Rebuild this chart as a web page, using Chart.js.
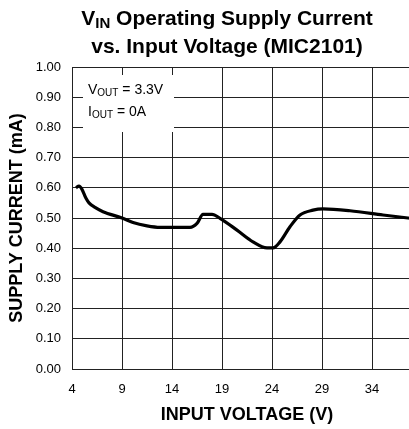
<!DOCTYPE html>
<html>
<head>
<meta charset="utf-8">
<script src="https://cdn.jsdelivr.net/npm/chart.js@4.4.0/dist/chart.umd.min.js"></script>
<style>
  html, body { margin: 0; padding: 0; background: #fff; overflow: hidden; }
  #wrap { width: 422px; height: 429px; }
</style>
</head>
<body>
<div id="wrap"><canvas id="chart" width="422" height="429"></canvas></div>
<script>
'use strict';

// ===== DATA =====
const inputVoltage = [4.4, 4.7, 5.0, 5.4, 5.7, 6.3, 7.1, 9.0, 10.1, 11.5, 12.8, 15.8, 16.5, 17.1, 18.0, 18.8, 20.5, 22.1, 23.5, 24.1, 24.8, 25.8, 26.8, 28.1, 29.1, 31.8, 35.1, 37.6, 39.0];
const supplyCurrent = [0.600, 0.606, 0.595, 0.565, 0.550, 0.535, 0.521, 0.500, 0.485, 0.474, 0.469, 0.469, 0.482, 0.512, 0.512, 0.499, 0.460, 0.421, 0.401, 0.401, 0.421, 0.471, 0.510, 0.526, 0.530, 0.524, 0.510, 0.500, 0.495];
const xTicks = [4, 9, 14, 19, 24, 29, 34];
const yTicks = [0, 0.1, 0.2, 0.3, 0.4, 0.5, 0.6, 0.7, 0.8, 0.9, 1.0];

const FONT = 'Arial, "Liberation Sans", sans-serif';

// draw "base" + subscript + rest, starting at x
function subText(ctx, x, y, base, sub, rest, size, bold) {
  const w = bold ? 'bold ' : '';
  ctx.font = w + size + 'px ' + FONT;
  ctx.fillText(base, x, y);
  x += ctx.measureText(base).width;
  ctx.font = w + Math.round(size * 0.7) + 'px ' + FONT;
  ctx.fillText(sub, x, y + size * 0.16);
  x += ctx.measureText(sub).width;
  ctx.font = w + size + 'px ' + FONT;
  ctx.fillText(rest, x, y);
}

function subWidth(ctx, base, sub, rest, size, bold) {
  const w = bold ? 'bold ' : '';
  ctx.font = w + size + 'px ' + FONT;
  let t = ctx.measureText(base).width + ctx.measureText(rest).width;
  ctx.font = w + Math.round(size * 0.7) + 'px ' + FONT;
  return t + ctx.measureText(sub).width;
}

// ===== TITLE + NOTE BOX =====
const decorPlugin = {
  id: 'decor',
  beforeDatasetsDraw(chart) {
    const ctx = chart.ctx;
    const a = chart.chartArea;
    ctx.save();
    // white note box covering the grid
    ctx.fillStyle = '#fff';
    ctx.fillRect(a.left + 11, a.top + 8, 91, 57);
    ctx.fillStyle = '#000';
    ctx.textBaseline = 'alphabetic';
    ctx.textAlign = 'left';
    subText(ctx, a.left + 16, a.top + 27, 'V', 'OUT', ' = 3.3V', 14, false);
    subText(ctx, a.left + 16, a.top + 49, 'I', 'OUT', ' = 0A', 14, false);
    ctx.restore();
  },
  afterDraw(chart) {
    const ctx = chart.ctx;
    ctx.save();
    ctx.fillStyle = '#000';
    ctx.textBaseline = 'alphabetic';
    ctx.textAlign = 'left';
    const cx = 227;
    const w1 = subWidth(ctx, 'V', 'IN', ' Operating Supply Current', 21, true);
    subText(ctx, cx - w1 / 2, 25, 'V', 'IN', ' Operating Supply Current', 21, true);
    ctx.font = 'bold 21px ' + FONT;
    ctx.textAlign = 'center';
    ctx.fillText('vs. Input Voltage (MIC2101)', cx, 53);
    ctx.restore();
  }
};

// ===== CHART =====
const points = inputVoltage.map((v, i) => ({ x: v, y: supplyCurrent[i] }));

new Chart(document.getElementById('chart'), {
  type: 'line',
  data: {
    datasets: [{
      data: points,
      borderColor: '#000',
      borderWidth: 3.2,
      pointRadius: 0,
      tension: 0.35,
      cubicInterpolationMode: 'monotone',
      fill: false
    }]
  },
  options: {
    responsive: false,
    animation: false,
    layout: { padding: { top: 67, left: 0, right: 0, bottom: 0 } },
    plugins: { legend: { display: false }, title: { display: false }, tooltip: { enabled: false } },
    scales: {
      x: {
        type: 'linear',
        min: 4,
        max: 39,
        afterBuildTicks: s => { s.ticks = xTicks.map(v => ({ value: v })); },
        afterFit: s => { s.height = 60; },
        grid: { color: '#222', lineWidth: 1, drawTicks: false },
        border: { display: true, color: '#222', width: 1 },
        ticks: {
          color: '#000',
          font: { family: FONT, size: 13 },
          padding: 13,
          maxRotation: 0,
          callback: v => String(v)
        },
        title: {
          display: true,
          text: 'INPUT VOLTAGE (V)',
          color: '#000',
          font: { family: FONT, size: 18, weight: 'bold' },
          padding: { top: 0, bottom: 3 }
        }
      },
      y: {
        min: 0,
        max: 1,
        afterBuildTicks: s => { s.ticks = yTicks.map(v => ({ value: v })); },
        afterFit: s => { s.width = 72; },
        grid: { color: '#222', lineWidth: 1, drawTicks: false },
        border: { display: true, color: '#222', width: 1 },
        ticks: {
          color: '#000',
          font: { family: FONT, size: 13 },
          padding: 11,
          callback: v => Number(v).toFixed(2)
        },
        title: {
          display: true,
          text: 'SUPPLY CURRENT (mA)',
          color: '#000',
          font: { family: FONT, size: 18, weight: 'bold' },
          padding: { top: 6, bottom: 0 }
        }
      }
    }
  },
  plugins: [decorPlugin]
});
</script>
</body>
</html>
